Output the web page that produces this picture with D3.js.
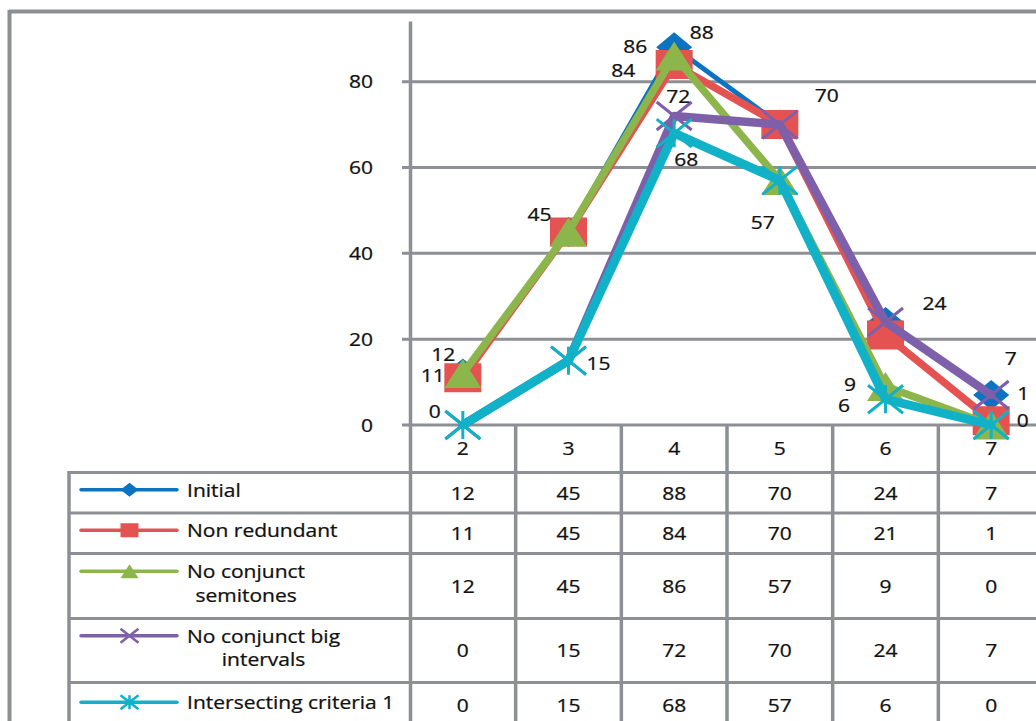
<!DOCTYPE html>
<html><head><meta charset="utf-8">
<script src="https://cdn.jsdelivr.net/npm/d3@7"></script>
<style>html,body{margin:0;padding:0;background:#fff;overflow:hidden}</style>
</head><body><svg id="c" width="1036" height="721"></svg>
<script>
// ---------- data ----------
const categories = ["2","3","4","5","6","7"];
const seriesNames = ["Initial","Non redundant","No conjunct semitones","No conjunct big intervals","Intersecting criteria 1"];
const legendLines = [["Initial"],["Non redundant"],["No conjunct","semitones"],["No conjunct big","intervals"],["Intersecting criteria 1"]];
const initial = [12,45,88,70,24,7];
const nonRedundant = [11,45,84,70,21,1];
const noConjSemitones = [12,45,86,57,9,0];
const noConjBigIntervals = [0,15,72,70,24,7];
const intersecting1 = [0,15,68,57,6,0];
const yTicks = [0,20,40,60,80];
const allSeries = [initial, nonRedundant, noConjSemitones, noConjBigIntervals, intersecting1];

// ---------- layout / style ----------
const W = 1036, H = 721;
const styles = [
  {color:"#0b73c1", width:5, marker:"diamond"},
  {color:"#e45352", width:7.5, marker:"square"},
  {color:"#8cb64b", width:7.5, marker:"triangle"},
  {color:"#7d60a9", width:8.5, marker:"x"},
  {color:"#11b1c7", width:9, marker:"star"}
];
// data label placement: [series, point, dx, dy]
const labelSpec = [
  [0,2,27.5,-15],[2,2,-39,-9.5],[1,2,-51,5.5],[3,2,4,-19.5],[4,2,12,26],
  [0,3,47,-29],[2,3,-17,42],
  [0,1,-29,-18],[4,1,30,3],
  [0,0,-19.5,-19.5],[1,0,-30,-3],[4,0,-28,-14],
  [0,4,49,-19],[2,4,-35.5,-2],[4,4,-41.5,6],
  [0,5,19.5,-37],[1,5,32,-27],[2,5,31.5,-5]
];
const GRID = "#8c9094";
const TXT = "#111111";
const FONT = "'Open Sans', sans-serif";
const FS = 17.5, SX = 1.2;

const svg = d3.select("#c");
const x = d3.scaleBand().domain(categories).range([410, 410 + 6*105.67]).paddingInner(0).paddingOuter(0);
const y = d3.scaleLinear().domain([0, 94]).range([425, 21.6]);
const cx = c => x(c) + x.bandwidth()/2;

function txt(parent, px, py, s, anchor="middle") {
  const g = parent.append("g").attr("transform", `translate(${px},${py}) scale(${SX},1)`);
  g.append("text").attr("x",0).attr("y",0)
    .attr("text-anchor", anchor).attr("dominant-baseline","central")
    .attr("font-family", FONT).attr("font-size", FS).attr("fill", TXT)
    .attr("stroke", TXT).attr("stroke-width", 0.25).text(s);
  return g;
}

function markerPath(type, w, h) {
  switch(type) {
    case "diamond": return `M0,${-h}L${w},0L0,${h}L${-w},0Z`;
    case "square": return `M${-w},${-h}H${w}V${h}H${-w}Z`;
    case "triangle": return `M0,${-h}L${w},${h}L${-w},${h}Z`;
    case "x": return `M${-w},${-h}L${w},${h}M${-w},${h}L${w},${-h}`;
    case "star": return `M${-w},${-h}L${w},${h}M${-w},${h}L${w},${-h}M0,${-h}L0,${h}`;
  }
}
function drawMarker(parent, type, color, px, py, w, h, sw) {
  const filled = type === "diamond" || type === "square" || type === "triangle";
  parent.append("path").attr("d", markerPath(type, w, h))
    .attr("transform", `translate(${px},${py})`)
    .attr("fill", filled ? color : "none")
    .attr("stroke", filled ? "none" : color)
    .attr("stroke-width", sw);
}

// ---------- frame ----------
svg.append("line").attr("x1",9).attr("x2",W).attr("y1",11.5).attr("y2",11.5).attr("stroke",GRID).attr("stroke-width",4);
svg.append("line").attr("x1",9.5).attr("x2",9.5).attr("y1",10).attr("y2",H).attr("stroke",GRID).attr("stroke-width",4);

// ---------- gridlines & y axis ----------
const gAxis = svg.append("g");
yTicks.forEach(t => {
  gAxis.append("line").attr("x1", 402).attr("x2", W).attr("y1", y(t)).attr("y2", y(t))
    .attr("stroke", GRID).attr("stroke-width", 3);
  txt(gAxis, 373, y(t), String(t), "end");
});
gAxis.append("line").attr("x1",410.5).attr("x2",410.5).attr("y1",y.range()[1]).attr("y2",H)
  .attr("stroke",GRID).attr("stroke-width",3.5);

// ---------- data table ----------
const rowEdges = [472.5, 513, 553.5, 618.5, 682.5, 728];
const tableLeft = 68;
const gT = svg.append("g");
rowEdges.slice(0,5).forEach(r => {
  gT.append("line").attr("x1", tableLeft).attr("x2", W).attr("y1", r).attr("y2", r)
    .attr("stroke", GRID).attr("stroke-width", 3);
});
gT.append("line").attr("x1", tableLeft+1).attr("x2", tableLeft+1).attr("y1", rowEdges[0]-1.5).attr("y2", H)
  .attr("stroke", GRID).attr("stroke-width", 3.5);
categories.forEach((c,i) => {
  if (i > 0) gT.append("line").attr("x1", x(c)).attr("x2", x(c)).attr("y1", y(0)).attr("y2", H)
    .attr("stroke", GRID).attr("stroke-width", 3.5);
  txt(gT, cx(c), 448, c);
});
allSeries.forEach((s, si) => {
  const top = rowEdges[si], bot = rowEdges[si+1];
  const mid = (top + bot)/2;
  s.forEach((v, i) => txt(gT, cx(categories[i]), mid, String(v)));
  // legend key
  const lines = legendLines[si];
  const lh = 23.5;
  const firstY = mid - (lines.length-1)*lh/2 - 3;
  const st = styles[si];
  gT.append("line").attr("x1", 81).attr("x2", 177).attr("y1", firstY).attr("y2", firstY)
    .attr("stroke", st.color).attr("stroke-width", 3.5).attr("stroke-linecap","round");
  drawMarker(gT, st.marker, st.color, 129.5, firstY, 9, 7, 2.5);
  // centered text block
  const blockLeft = 187;
  const tmp = lines.map(l => {
    const t = svg.append("text").attr("font-family", FONT).attr("font-size", FS).text(l);
    const w = t.node().getComputedTextLength() * SX; t.remove(); return w;
  });
  const maxW = d3.max(tmp);
  lines.forEach((l, li) => {
    txt(gT, blockLeft + maxW/2, firstY + li*lh, l, "middle");
  });
});

// ---------- series ----------
const gS = svg.append("g");
const lineGen = d3.line().x((d,i) => cx(categories[i])).y(d => y(d));
const mSize = {diamond:[18,15], square:[18.5,14.5], triangle:[18.5,14.5], x:[17.5,14], star:[17.5,14]};
allSeries.forEach((s, si) => {
  const st = styles[si];
  gS.append("path").datum(s).attr("d", lineGen).attr("fill","none")
    .attr("stroke", st.color).attr("stroke-width", st.width)
    .attr("stroke-linejoin","round").attr("stroke-linecap","round");
  s.forEach((v,i) => drawMarker(gS, st.marker, st.color, cx(categories[i]), y(v), mSize[st.marker][0], mSize[st.marker][1], 3));
});

// ---------- data labels ----------
const gL = svg.append("g");
labelSpec.forEach(([si, pi, dx, dy]) => {
  const v = allSeries[si][pi];
  txt(gL, cx(categories[pi]) + dx, y(v) + dy, String(v));
});
</script>
</body></html>
